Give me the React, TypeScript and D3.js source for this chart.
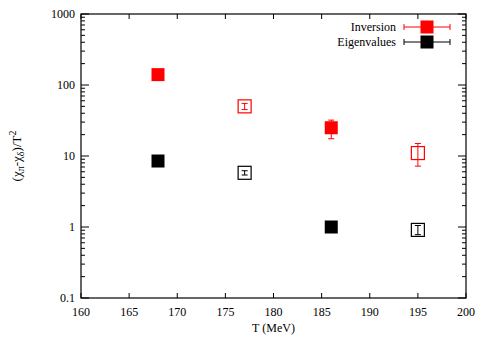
import * as d3 from "d3";
import { useEffect, useRef } from "react";

const temps = [168, 177, 186, 195];
const invVal = [140, 50, 25, 11];
const invLo = [118, 45, 17.5, 7.2];
const invHi = [148, 55, 32, 15];
const eigVal = [8.5, 5.8, 1.0, 0.91];
const eigLo = [8.2, 5.4, 0.95, 0.78];
const eigHi = [8.8, 6.2, 1.05, 1.05];
const filled = [true, false, true, false];
const xTicks = [160, 165, 170, 175, 180, 185, 190, 195, 200];
const yTicks = [0.1, 1, 10, 100, 1000];

export default function App() {
  const ref = useRef<SVGSVGElement>(null);

  useEffect(() => {
    const svg = d3.select(ref.current);
    svg.selectAll("*").remove();

    const width = 479;
    const height = 339;
    const margin = { top: 14, right: 13, bottom: 41, left: 81 };
    const plotW = width - margin.left - margin.right;
    const plotH = height - margin.top - margin.bottom;
    const font = "Liberation Serif, Times New Roman, serif";

    const x = d3.scaleLinear().domain([160, 200]).range([0, plotW]);
    const y = d3.scaleLog().domain([0.1, 1000]).range([plotH, 0]);

    const g = svg.append("g").attr("transform", `translate(${margin.left},${margin.top})`);

    // minor log ticks
    const minor: number[] = [];
    for (let e = -1; e < 3; e++) {
      for (let k = 2; k <= 9; k++) minor.push(k * Math.pow(10, e));
    }
    minor.forEach(v => {
      g.append("line").attr("x1", 0).attr("x2", 4).attr("y1", y(v)).attr("y2", y(v)).attr("stroke", "#000");
      g.append("line").attr("x1", plotW).attr("x2", plotW - 4).attr("y1", y(v)).attr("y2", y(v)).attr("stroke", "#000");
    });
    yTicks.forEach(v => {
      g.append("line").attr("x1", 0).attr("x2", 8).attr("y1", y(v)).attr("y2", y(v)).attr("stroke", "#000");
      g.append("line").attr("x1", plotW).attr("x2", plotW - 8).attr("y1", y(v)).attr("y2", y(v)).attr("stroke", "#000");
      g.append("text")
        .attr("x", -6).attr("y", y(v)).attr("dy", "0.35em")
        .attr("text-anchor", "end")
        .style("font-family", font).style("font-size", "12px")
        .text(String(v));
    });
    xTicks.forEach(v => {
      g.append("line").attr("x1", x(v)).attr("x2", x(v)).attr("y1", plotH).attr("y2", plotH - 5).attr("stroke", "#000");
      g.append("line").attr("x1", x(v)).attr("x2", x(v)).attr("y1", 0).attr("y2", 5).attr("stroke", "#000");
      g.append("text")
        .attr("x", x(v)).attr("y", plotH + 18)
        .attr("text-anchor", "middle")
        .style("font-family", font).style("font-size", "12px")
        .text(String(v));
    });

    g.append("rect")
      .attr("width", plotW).attr("height", plotH)
      .attr("fill", "none").attr("stroke", "#000").attr("stroke-width", 1.2);

    // labels
    svg.append("text")
      .attr("x", margin.left + plotW / 2).attr("y", height - 7)
      .attr("text-anchor", "middle")
      .style("font-family", font).style("font-size", "12px")
      .text("T (MeV)");

    const yl = svg.append("text")
      .attr("transform", `translate(21,${margin.top + plotH / 2}) rotate(-90)`)
      .attr("text-anchor", "middle")
      .style("font-family", font).style("font-size", "13px");
    yl.append("tspan").text("(χ");
    yl.append("tspan").attr("dy", 3).style("font-size", "10px").text("π");
    yl.append("tspan").attr("dy", -3).text("-χ");
    yl.append("tspan").attr("dy", 3).style("font-size", "10px").text("δ");
    yl.append("tspan").attr("dy", -3).text(")/T");
    yl.append("tspan").attr("dy", -5).style("font-size", "10px").text("2");

    const sq = 13;
    const drawSeries = (vals: number[], lo: number[], hi: number[], color: string) => {
      temps.forEach((t, i) => {
        const cx = x(t);
        const cy = y(vals[i]);
        g.append("line").attr("x1", cx).attr("x2", cx).attr("y1", y(lo[i])).attr("y2", y(hi[i])).attr("stroke", color);
        [lo[i], hi[i]].forEach(v => {
          g.append("line").attr("x1", cx - 3).attr("x2", cx + 3).attr("y1", y(v)).attr("y2", y(v)).attr("stroke", color);
        });
        g.append("rect")
          .attr("x", cx - sq / 2).attr("y", cy - sq / 2)
          .attr("width", sq).attr("height", sq)
          .attr("fill", filled[i] ? color : "none")
          .attr("stroke", color).attr("stroke-width", filled[i] ? 0 : 1.2);
      });
    };
    drawSeries(invVal, invLo, invHi, "#ff0000");
    drawSeries(eigVal, eigLo, eigHi, "#000000");

    // legend
    const legend = [
      { name: "Inversion", color: "#ff0000", yy: 27 },
      { name: "Eigenvalues", color: "#000000", yy: 42 },
    ];
    legend.forEach(l => {
      svg.append("text")
        .attr("x", 396).attr("y", l.yy).attr("dy", "0.35em")
        .attr("text-anchor", "end")
        .style("font-family", font).style("font-size", "12px")
        .text(l.name);
      svg.append("line").attr("x1", 404).attr("x2", 450).attr("y1", l.yy).attr("y2", l.yy).attr("stroke", l.color);
      [404, 450].forEach(xx => {
        svg.append("line").attr("x1", xx).attr("x2", xx).attr("y1", l.yy - 3).attr("y2", l.yy + 3).attr("stroke", l.color);
      });
      svg.append("rect")
        .attr("x", 427 - sq / 2).attr("y", l.yy - sq / 2)
        .attr("width", sq).attr("height", sq)
        .attr("fill", l.color);
    });
  }, []);

  return (
    <div style={{ position: "absolute", left: 0, top: 0 }}>
      <svg ref={ref} width={479} height={339} />
    </div>
  );
}
